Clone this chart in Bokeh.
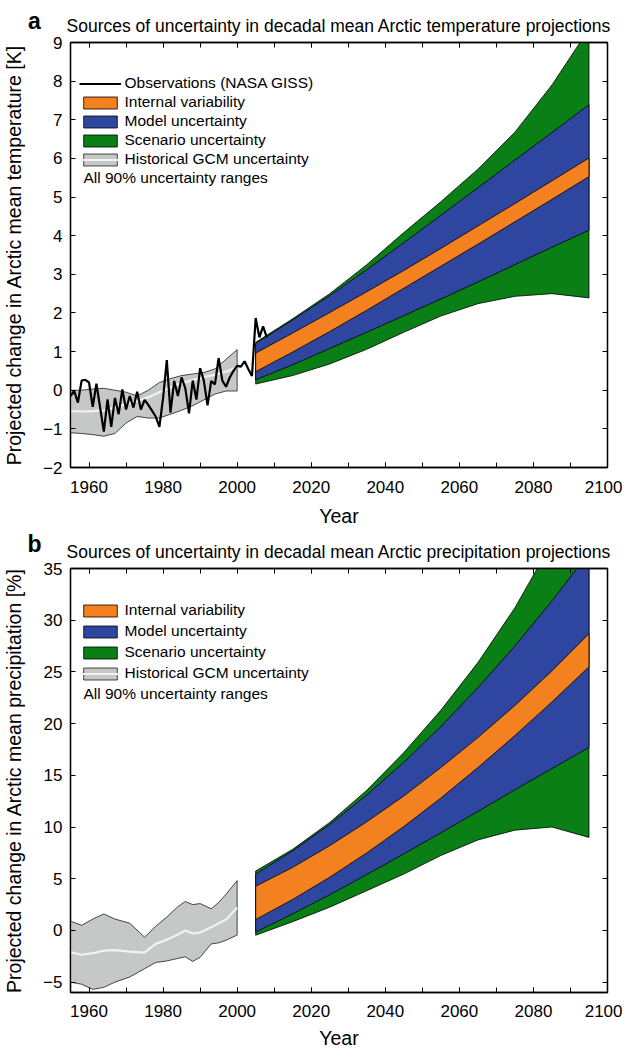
from bokeh.plotting import figure
from bokeh.models import (Range1d, LinearAxis, SingleIntervalTicker, Legend, LegendItem,
                          Label, Title, CustomJSTickFormatter)
from bokeh.layouts import column
from bokeh.embed import file_html
from bokeh.resources import INLINE

FONT = "Liberation Sans"

# ---------------- data: panel a (temperature, K) ----------------
proj_years = [2005, 2015, 2025, 2035, 2045, 2055, 2065, 2075, 2085, 2095]

t_scen_hi = [1.24, 1.85, 2.50, 3.25, 4.08, 4.88, 5.72, 6.68, 7.90, 9.35]
t_model_hi = [1.21, 1.82, 2.45, 3.12, 3.82, 4.53, 5.24, 5.96, 6.67, 7.39]
t_int_hi = [0.96, 1.48, 2.01, 2.55, 3.10, 3.67, 4.25, 4.83, 5.42, 6.01]
t_int_lo = [0.48, 0.99, 1.52, 2.07, 2.64, 3.21, 3.78, 4.36, 4.94, 5.53]
t_model_lo = [0.27, 0.66, 1.08, 1.50, 1.93, 2.36, 2.80, 3.25, 3.70, 4.14]
t_scen_lo = [0.16, 0.38, 0.68, 1.06, 1.50, 1.92, 2.24, 2.43, 2.50, 2.39]

t_hist_years = [1955, 1958, 1961, 1964, 1967, 1970, 1973, 1976, 1979, 1982, 1985, 1988, 1991, 1994, 1997, 2000]
t_hist_hi = [0.00, 0.00, 0.03, 0.05, 0.00, -0.05, -0.15, 0.00, 0.20, 0.30, 0.38, 0.42, 0.46, 0.55, 0.80, 1.05]
t_hist_lo = [-1.10, -1.12, -1.15, -1.19, -1.12, -0.85, -0.68, -0.72, -0.72, -0.62, -0.52, -0.40, -0.25, -0.10, -0.02, -0.02]
t_hist_mean = [-0.54, -0.55, -0.54, -0.52, -0.45, -0.36, -0.28, -0.18, -0.05, 0.08, 0.18, 0.26, 0.34, 0.40, 0.48, 0.60]

obs_years = list(range(1955, 2009))
obs_values = [-0.15, -0.02, -0.32, 0.25, 0.27, 0.20, -0.43, 0.17, -0.45, -1.07,
              -0.24, -0.95, -0.20, -0.62, 0.02, -0.50, -0.15, -0.45, -0.04, -0.50,
              -0.25, -0.38, -0.53, -0.68, -0.95, -0.20, 0.78, -0.58, 0.24, -0.15,
              0.33, 0.05, -0.60, 0.25, -0.24, 0.57, 0.25, -0.39, 0.24, 0.15,
              0.83, 0.25, 0.09, 0.33, 0.50, 0.63, 0.61, 0.75, 0.55, 0.37,
              1.87, 1.37, 1.65, 1.37]

# ---------------- data: panel b (precipitation, %) ----------------
p_scen_hi = [5.75, 7.85, 10.45, 13.55, 17.20, 21.30, 25.90, 31.20, 37.50, 44.50]
p_model_hi = [5.45, 7.70, 10.26, 13.11, 16.26, 19.72, 23.47, 27.52, 31.87, 36.52]
p_int_hi = [4.27, 6.10, 8.20, 10.50, 13.00, 15.75, 18.65, 21.75, 25.10, 28.70]
p_int_lo = [1.06, 3.00, 5.15, 7.50, 10.05, 12.80, 15.75, 18.85, 22.10, 25.50]
p_model_lo = [-0.15, 1.60, 3.45, 5.40, 7.40, 9.45, 11.50, 13.60, 15.65, 17.70]
p_scen_lo = [-0.46, 0.85, 2.25, 3.85, 5.45, 7.25, 8.75, 9.70, 10.00, 9.00]

p_hist_years = [1955, 1958, 1961, 1964, 1967, 1971, 1975, 1978, 1981, 1984, 1986, 1988, 1990, 1993, 1995, 1997, 2000]
p_hist_hi = [0.9, 0.5, 1.1, 1.6, 1.1, 0.7, -0.65, 0.4, 1.3, 2.3, 2.8, 2.5, 2.6, 2.1, 2.7, 3.5, 4.82]
p_hist_lo = [-5.0, -5.2, -5.7, -5.5, -5.0, -4.5, -3.7, -3.1, -2.95, -2.7, -2.55, -3.0, -2.6, -1.3, -1.2, -0.95, -0.45]
p_hist_mean = [-2.1, -2.35, -2.2, -1.95, -1.9, -2.05, -2.15, -1.3, -0.9, -0.4, 0.0, -0.3, -0.2, 0.3, 0.7, 1.05, 2.2]

legend_labels = ["Observations (NASA GISS)", "Internal variability", "Model uncertainty",
                 "Scenario uncertainty", "Historical GCM uncertainty"]
note_text = "All 90% uncertainty ranges"
title_a = "Sources of uncertainty in decadal mean Arctic temperature projections"
title_b = "Sources of uncertainty in decadal mean Arctic precipitation projections"
ylabel_a = "Projected change in Arctic mean temperature [K]"
ylabel_b = "Projected change in Arctic mean precipitation [%]"

ORANGE = "#F3811F"
BLUE = "#2F46A0"
GREEN = "#0A7F16"
GRAY = "#C6C7C7"

W = 622
LEFT, RIGHT = 70, 15


def band(p, xs, hi, lo, color):
    return p.patch(xs + xs[::-1], hi + lo[::-1], fill_color=color, line_color="black",
                   line_width=0.8)


def style_axis(ax):
    ax.axis_line_color = "black"
    ax.axis_line_width = 1.3
    ax.major_tick_in = 5
    ax.major_tick_out = 0
    ax.minor_tick_in = 5
    ax.minor_tick_out = 0
    ax.major_tick_line_color = "black"
    ax.minor_tick_line_color = "black"
    ax.major_label_text_font = FONT
    ax.major_label_text_font_size = "17px"
    ax.major_label_text_color = "black"
    ax.axis_label_text_font = FONT
    ax.axis_label_text_font_size = "19.5px"
    ax.axis_label_text_font_style = "normal"
    ax.axis_label_text_color = "black"


def make_panel(top, frame_h, bottom_b, xl_standoff, xa_standoff, ymin, ymax, y_interval,
               overrides, ylabel, hi_s, hi_m, hi_i, lo_i, lo_m, lo_s, hy, hhi, hlo, hmean,
               letter, title, letter_dy, with_obs, leg_vy, leg_spacing, note_y):
    height = top + frame_h + bottom_b
    xt = SingleIntervalTicker(interval=20, num_minor_ticks=2)
    yt = SingleIntervalTicker(interval=y_interval, num_minor_ticks=0)
    p = figure(width=W, height=height, x_range=Range1d(1955, 2100), y_range=Range1d(ymin, ymax),
               output_backend="svg", toolbar_location=None, x_axis_location=None, y_axis_location=None,
               min_border_left=LEFT, min_border_right=RIGHT, min_border_top=top,
               min_border_bottom=bottom_b)
    p.xgrid.visible = False
    p.ygrid.visible = False
    p.outline_line_color = "black"
    p.outline_line_width = 1.3
    p.background_fill_color = "white"
    p.border_fill_color = "white"

    blank = CustomJSTickFormatter(code="return ''")
    bottom = LinearAxis(ticker=xt, axis_label="Year", major_label_standoff=xl_standoff,
                        axis_label_standoff=xa_standoff)
    left = LinearAxis(ticker=yt, axis_label=ylabel, major_label_standoff=8, axis_label_standoff=15,
                      major_label_overrides=overrides)
    topax = LinearAxis(ticker=xt, formatter=blank, major_label_standoff=0)
    rightax = LinearAxis(ticker=yt, formatter=blank, major_label_standoff=0)
    for ax in (bottom, left, topax, rightax):
        style_axis(ax)
    p.add_layout(bottom, "below")
    p.add_layout(left, "left")
    p.add_layout(topax, "above")
    p.add_layout(rightax, "right")

    p.title = Title(text=title, align="left", offset=-4, standoff=14, text_font=FONT,
                    text_font_size="17.5px", text_font_style="normal", text_color="black")

    r_s = band(p, proj_years, hi_s, lo_s, GREEN)
    r_m = band(p, proj_years, hi_m, lo_m, BLUE)
    r_i = band(p, proj_years, hi_i, lo_i, ORANGE)
    r_h = p.patch(hy + hy[::-1], hhi + hlo[::-1], fill_color=GRAY, line_color="black", line_width=0.7)
    r_hm = p.line(hy, hmean, line_color="#F2F2F2", line_width=2.2)

    items = []
    if with_obs:
        r_o = p.line(obs_years, obs_values, line_color="black", line_width=2.2)
        items.append(LegendItem(label=legend_labels[0], renderers=[r_o]))
    items += [LegendItem(label=legend_labels[1], renderers=[r_i]),
              LegendItem(label=legend_labels[2], renderers=[r_m]),
              LegendItem(label=legend_labels[3], renderers=[r_s]),
              LegendItem(label=legend_labels[4], renderers=[r_h, r_hm])]
    leg = Legend(items=items, location=(8.5, leg_vy), padding=0, margin=0,
                 glyph_width=42, glyph_height=15, label_height=17, spacing=leg_spacing,
                 label_standoff=4, label_text_font=FONT, label_text_font_size="15.5px",
                 label_text_color="black", background_fill_alpha=0, border_line_color=None)
    p.add_layout(leg)

    p.add_layout(Label(x=1958.5, y=note_y, text=note_text, text_font=FONT,
                       text_font_size="15.5px", text_baseline="middle", text_align="left",
                       text_color="black"))
    # panel letter placed in the right side panel so that it is not clipped to the frame
    p.add_layout(Label(x=34 - (W - RIGHT), y=frame_h + letter_dy, x_units="screen", y_units="screen",
                       text=letter, text_font=FONT, text_font_size="23px",
                       text_font_style="bold", text_baseline="middle", text_align="center",
                       text_color="black"), "right")
    return p


pa = make_panel(42, 425, 62, 13, 9, -2, 9, 1, {-2: "\u22122", -1: "\u22121"}, ylabel_a,
                t_scen_hi, t_model_hi, t_int_hi, t_int_lo, t_model_lo, t_scen_lo,
                t_hist_years, t_hist_hi, t_hist_lo, t_hist_mean,
                "a", title_a, 22, True, 299, 1, 5.5)
pb = make_panel(39, 424, 59, 12, 7, -6, 35, 5, {-5: "\u22125"}, ylabel_b,
                p_scen_hi, p_model_hi, p_int_hi, p_int_lo, p_model_lo, p_scen_lo,
                p_hist_years, p_hist_hi, p_hist_lo, p_hist_mean,
                "b", title_b, 25, False, 310, 3, 22.88)

layout = column(pa, pb, spacing=0)
open("out.html", "w").write(file_html(layout, INLINE))
